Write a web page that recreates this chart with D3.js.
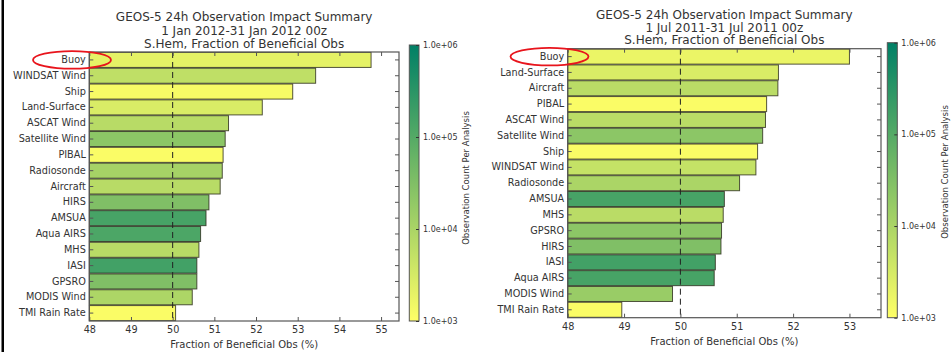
<!DOCTYPE html>
<html>
<head>
<meta charset="utf-8">
<script src="https://cdn.jsdelivr.net/npm/d3@7"></script>
<style>
  html, body { margin: 0; padding: 0; background: #fff; }
  svg { display: block; font-family: "DejaVu Sans", sans-serif; }
</style>
</head>
<body>
<svg id="chart" width="952" height="352"></svg>
<script>
// ---------------- data ----------------
const titleLines = ["GEOS-5 24h Observation Impact Summary", "S.Hem, Fraction of Beneficial Obs"];
const leftPeriod = "1 Jan 2012-31 Jan 2012 00z";
const rightPeriod = "1 Jul 2011-31 Jul 2011 00z";
const xLabel = "Fraction of Beneficial Obs (%)";
const colorbarLabel = "Observation Count Per Analysis";

const leftCategories = ["Buoy", "WINDSAT Wind", "Ship", "Land-Surface", "ASCAT Wind", "Satellite Wind",
  "PIBAL", "Radiosonde", "Aircraft", "HIRS", "AMSUA", "Aqua AIRS", "MHS", "IASI", "GPSRO",
  "MODIS Wind", "TMI Rain Rate"];
const leftValues = [54.76, 53.43, 52.88, 52.15, 51.34, 51.26, 51.21, 51.19, 51.14, 50.87, 50.80,
  50.67, 50.63, 50.58, 50.58, 50.47, 50.07];
const leftCounts = [2000, 5600, 1230, 2800, 6900, 22400, 1150, 11200, 6900, 31600, 145000,
  126000, 6900, 166000, 31600, 9100, 1150];
const leftXTicks = [48, 49, 50, 51, 52, 53, 54, 55];

const rightCategories = ["Buoy", "Land-Surface", "Aircraft", "PIBAL", "ASCAT Wind", "Satellite Wind",
  "Ship", "WINDSAT Wind", "Radiosonde", "AMSUA", "MHS", "GPSRO", "HIRS", "IASI", "Aqua AIRS",
  "MODIS Wind", "TMI Rain Rate"];
const rightValues = [53.00, 51.74, 51.73, 51.53, 51.51, 51.46, 51.37, 51.34, 51.05, 50.78, 50.76,
  50.73, 50.72, 50.62, 50.60, 49.86, 48.96];
const rightCounts = [1740, 2800, 6500, 1150, 6500, 22400, 1150, 4900, 9800, 145000, 6500,
  22400, 31600, 166000, 145000, 15800, 1150];
const rightXTicks = [48, 49, 50, 51, 52, 53];

const colorbarTicks = [1e3, 1e4, 1e5, 1e6];
const referenceValue = 50;
const highlighted = "Buoy";

// ---------------- drawing ----------------
const svg = d3.select("#chart");
const textColor = "#333";
const frameColor = "#555";

// summer_r colormap (matplotlib): low = yellow, high = green
function summerR(s) {
  const t = 1 - Math.max(0, Math.min(1, s));
  return d3.rgb(255 * t, 255 * (0.5 + 0.5 * t), 255 * 0.4);
}

const colorNorm = d3.scaleLog().domain([1e3, 1e6]).range([0, 1]).clamp(true);

// gradient for colorbar
const defs = svg.append("defs");
const grad = defs.append("linearGradient").attr("id", "cbgrad")
  .attr("x1", 0).attr("y1", 1).attr("x2", 0).attr("y2", 0);
d3.range(0, 1.0001, 0.05).forEach(s => {
  grad.append("stop").attr("offset", s).attr("stop-color", summerR(s));
});

// left black border of the screenshot
svg.append("rect").attr("x", 1.5).attr("y", 0).attr("width", 2.5).attr("height", 352).attr("fill", "#000");

function drawPanel(cfg) {
  const g = svg.append("g");
  const x = d3.scaleLinear().domain(cfg.xDomain).range([cfg.x0, cfg.x1]);
  const y = d3.scaleBand().domain(cfg.categories).range([cfg.y0, cfg.y1])
    .paddingInner(0.05).paddingOuter(0.025);

  // bars
  g.selectAll("rect.bar").data(cfg.categories).join("rect")
    .attr("class", "bar")
    .attr("x", x(cfg.xDomain[0]))
    .attr("y", d => y(d))
    .attr("width", (d, i) => x(cfg.values[i]) - x(cfg.xDomain[0]))
    .attr("height", y.bandwidth())
    .attr("fill", (d, i) => summerR(colorNorm(cfg.counts[i])))
    .attr("stroke", "#2a2a1a")
    .attr("stroke-opacity", 0.8)
    .attr("stroke-width", 1);

  // reference dashed line
  g.append("line")
    .attr("x1", x(referenceValue)).attr("x2", x(referenceValue))
    .attr("y1", cfg.y0).attr("y2", cfg.y1)
    .attr("stroke", "#222").attr("stroke-width", 1)
    .attr("stroke-dasharray", "6,4");

  // axes (ticks inward, matplotlib classic)
  const bottom = g.append("g").attr("transform", `translate(0,${cfg.y1})`)
    .call(d3.axisBottom(x).tickValues(cfg.xTicks).tickSize(-4).tickPadding(6).tickFormat(d3.format("d")));
  const top = g.append("g").attr("transform", `translate(0,${cfg.y0})`)
    .call(d3.axisTop(x).tickValues(cfg.xTicks).tickSize(-4).tickFormat(""));
  const left = g.append("g").attr("transform", `translate(${cfg.x0},0)`)
    .call(d3.axisLeft(y).tickSize(-4).tickPadding(4));
  const right = g.append("g").attr("transform", `translate(${cfg.x1},0)`)
    .call(d3.axisRight(y).tickSize(-4).tickFormat(""));
  [bottom, top, left, right].forEach(a => {
    a.select(".domain").remove();
    a.selectAll(".tick line").attr("stroke", frameColor).attr("stroke-width", 1);
    a.selectAll("text").attr("fill", textColor).attr("font-size", "9.7px")
      .attr("font-family", "DejaVu Sans, sans-serif");
  });
  bottom.selectAll(".tick text").attr("dy", "0.35em").attr("y", cfg.tickLabelY - cfg.y1);
  left.selectAll(".tick text").attr("x", -3.5);

  // frame
  g.append("rect").attr("x", cfg.x0).attr("y", cfg.y0)
    .attr("width", cfg.x1 - cfg.x0).attr("height", cfg.y1 - cfg.y0)
    .attr("fill", "none").attr("stroke", frameColor).attr("stroke-width", 1.2);

  // titles
  const titles = [titleLines[0], cfg.period, titleLines[1]];
  titles.forEach((t, i) => {
    g.append("text").attr("x", (cfg.x0 + cfg.x1) / 2).attr("y", cfg.titleY[i])
      .attr("dy", "0.35em").attr("text-anchor", "middle")
      .attr("font-size", "12px").attr("fill", textColor).text(t);
  });

  // x label
  g.append("text").attr("x", (cfg.x0 + cfg.x1) / 2).attr("y", cfg.xLabelY)
    .attr("dy", "0.35em").attr("text-anchor", "middle")
    .attr("font-size", "10px").attr("fill", textColor).text(xLabel);

  // highlight ellipse
  const hy = y(highlighted) + y.bandwidth() / 2;
  g.append("ellipse").attr("cx", cfg.ellipseCx).attr("cy", hy)
    .attr("rx", 39).attr("ry", 8.8)
    .attr("fill", "none").attr("stroke", "#e8141c").attr("stroke-width", 1.8);

  // colorbar
  const cb = cfg.cb;
  const cy = d3.scaleLog().domain([1e3, 1e6]).range([cb.y1, cb.y0]);
  g.append("rect").attr("x", cb.x0).attr("y", cb.y0)
    .attr("width", cb.x1 - cb.x0).attr("height", cb.y1 - cb.y0)
    .attr("fill", "url(#cbgrad)").attr("stroke", frameColor).attr("stroke-width", 1);
  const cbAxis = g.append("g").attr("transform", `translate(${cb.x1},0)`)
    .call(d3.axisRight(cy).tickValues(colorbarTicks).tickSize(-3).tickPadding(4)
      .tickFormat(d => d3.format(".1e")(d).replace(/e([+-])(\d)$/, "e$10$2")));
  cbAxis.select(".domain").remove();
  cbAxis.selectAll(".tick line").attr("stroke", "#333");
  cbAxis.selectAll("text").attr("fill", textColor).attr("font-size", "8px")
    .attr("font-family", "DejaVu Sans, sans-serif");
  g.append("text")
    .attr("transform", `translate(${cb.labelX},${cb.labelY}) rotate(-90)`)
    .attr("text-anchor", "middle").attr("dy", "0.35em")
    .attr("font-size", "8.5px").attr("fill", textColor).text(colorbarLabel);
}

drawPanel({
  categories: leftCategories, values: leftValues, counts: leftCounts, xTicks: leftXTicks,
  period: leftPeriod, xDomain: [48, 55.43],
  x0: 89.3, x1: 399, y0: 52, y1: 321,
  titleY: [16.7, 31, 43.5], tickLabelY: 329.5, xLabelY: 344,
  ellipseCx: 72,
  cb: { x0: 409.3, x1: 419, y0: 45, y1: 321, labelX: 466.5, labelY: 178 }
});

drawPanel({
  categories: rightCategories, values: rightValues, counts: rightCounts, xTicks: rightXTicks,
  period: rightPeriod, xDomain: [48, 53.56],
  x0: 567.7, x1: 881, y0: 48.7, y1: 317.7,
  titleY: [14.3, 27.5, 40.2], tickLabelY: 326.7, xLabelY: 341.7,
  ellipseCx: 549.5,
  cb: { x0: 887.3, x1: 897.3, y0: 42.7, y1: 317.7, labelX: 945.5, labelY: 172 }
});
</script>
</body>
</html>
